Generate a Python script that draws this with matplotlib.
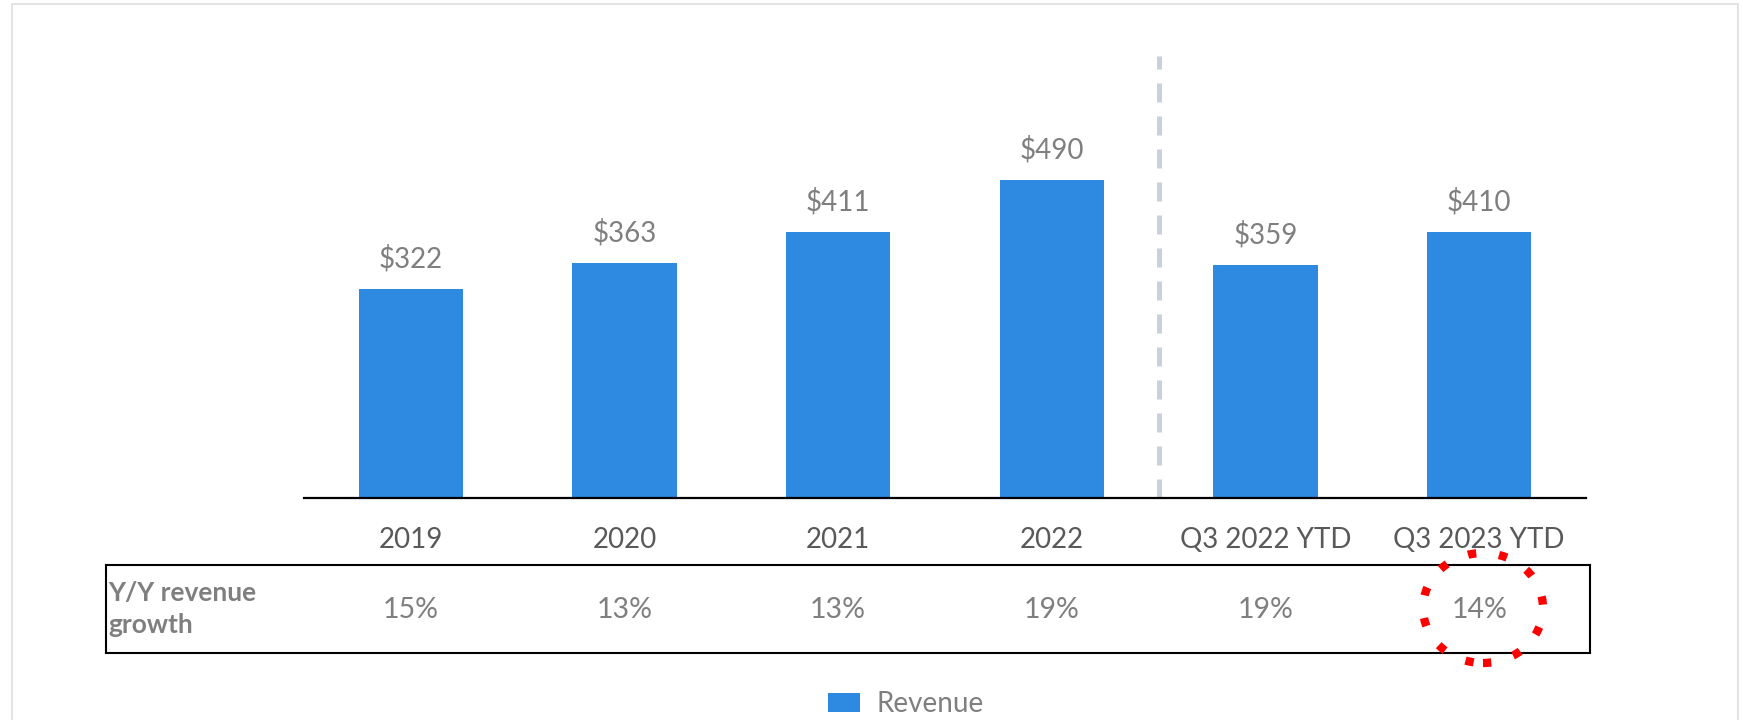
import matplotlib
matplotlib.use("Agg")
import matplotlib.pyplot as plt
from matplotlib.patches import Rectangle, Ellipse, Patch
from matplotlib import transforms

plt.rcParams['font.family'] = ['Lato', 'DejaVu Sans']

categories = ["2019", "2020", "2021", "2022", "Q3 2022 YTD", "Q3 2023 YTD"]
revenue = [322, 363, 411, 490, 359, 410]
growth = ["15%", "13%", "13%", "19%", "19%", "14%"]
growth_label = "Y/Y revenue\ngrowth"
legend_label = "Revenue"

W, H = 1743, 720
DPI = 100
BAR_COLOR = "#2E89E0"
GRAY = "#7F7F7F"
DARK = "#595959"

fig = plt.figure(figsize=(W / DPI, H / DPI), dpi=DPI)


def fx(px):
    return px / W


def fy(py):
    return 1 - py / H


# outer frame
fig.add_artist(Rectangle((fx(12), fy(740)), fx(1738) - fx(12), fy(4) - fy(740),
                         transform=fig.transFigure, fill=False,
                         edgecolor="#E3E3E3", linewidth=1.4, clip_on=False))

# bar chart
ax = fig.add_axes([fx(304), fy(498), fx(1586) - fx(304), fy(56) - fy(498)])
x = list(range(len(categories)))
ax.bar(x, revenue, width=0.487, color=BAR_COLOR, zorder=2)
ax.set_xlim(-0.5, len(categories) - 0.5)
ax.set_ylim(0, 682)
for s in ("top", "right", "left"):
    ax.spines[s].set_visible(False)
ax.spines["bottom"].set_linewidth(1.6)
ax.spines["bottom"].set_color("black")
ax.spines["bottom"].set_zorder(3)
ax.set_yticks([])
ax.set_xticks(x)
ax.set_xticklabels(categories, fontsize=20, color=DARK)
ax.tick_params(axis="x", length=0, pad=21)

for xi, v in zip(x, revenue):
    ax.annotate(f"${v}", (xi, v), xytext=(0, 15.5), textcoords="offset points",
                ha="center", va="baseline", fontsize=20, color=GRAY,
                parse_math=False)

# separator between full years and year-to-date
ax.axvline(3.5, 0, 1, color="#C9D1DD", linewidth=3.6,
           linestyle=(0, (3.8, 2.8)), zorder=1)

# growth row
tax = fig.add_axes([fx(106), fy(653), fx(1590) - fx(106), fy(565) - fy(653)])
tax.set_xticks([])
tax.set_yticks([])
for s in tax.spines.values():
    s.set_linewidth(1.5)
    s.set_color("black")

row_tr = transforms.blended_transform_factory(ax.transData, fig.transFigure)
for xi, g in zip(x, growth):
    fig.text(xi, fy(610), g, transform=row_tr, ha="center", va="center",
             fontsize=20.5, color=GRAY)
fig.text(fx(108), fy(609), growth_label, ha="left", va="center",
         fontsize=19, fontweight="bold", color=GRAY, linespacing=1.38)

# highlight on the latest growth figure
fig.add_artist(Ellipse((fx(1483), fy(608)), fx(120), 110 / H,
                       transform=fig.transFigure, fill=False,
                       edgecolor="#FF0000", linewidth=6,
                       linestyle=(0, (1, 2.75)), clip_on=False))

fig.legend(handles=[Patch(facecolor=BAR_COLOR, edgecolor="none", label=legend_label)],
           loc="center", bbox_to_anchor=(fx(906), fy(704)), frameon=False,
           fontsize=20, labelcolor=GRAY, handlelength=1.12, handleheight=0.65,
           handletextpad=0.6, borderpad=0, borderaxespad=0)

fig.savefig("out.png", dpi=DPI, facecolor="white")
